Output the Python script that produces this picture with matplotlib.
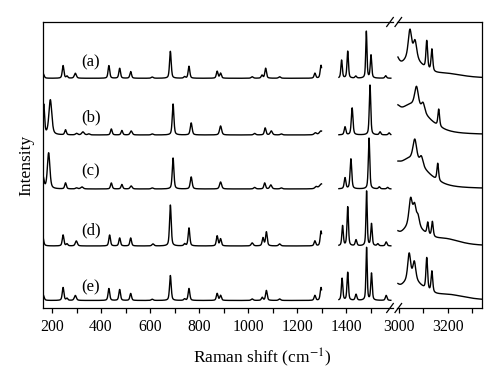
import numpy as np
import matplotlib
matplotlib.use("Agg")
import matplotlib.pyplot as plt
from matplotlib.lines import Line2D

plt.rcParams.update({
    "font.family": ["Liberation Serif", "DejaVu Serif"],
    "mathtext.fontset": "stix",
    "font.size": 11,
})

# ── Data: peak tables (centre cm-1, height, half-width) ──

labels = ["(a)", "(b)", "(c)", "(d)", "(e)"]
offsets = [229.7, 173.0, 119.0, 62.0, 7.5]
label_y = [246, 191, 137, 78, 21]

peaks_a = [
    (163, 5, 5), (245, 12.7, 4), (261, 2, 4), (295, 5, 5), (432, 12.7, 4),
    (476, 10, 4), (521, 6.7, 4), (609, 1.2, 5), (683, 27, 4), (741, 1.5, 4),
    (759, 12, 4), (874, 7, 4), (888, 5, 4), (1017, 1.5, 5), (1057, 3, 4),
    (1072, 10, 4), (1129, 1.5, 5), (1273, 5, 4), (1298, 13, 4),
    (1382, 18, 3.5), (1407, 27, 3.5), (1440, 2, 4), (1483, 47, 3),
    (1502, 23, 3.5), (1562, 2.5, 4),
    (2985, 17, 15), (3050, 20, 50), (3045, 27, 8), (3066, 17, 8),
    (3114, 28, 4), (3135, 22, 4), (3190, 4, 80),
]
peaks_b = [
    (166, 30, 4), (193, 35, 7), (255, 5, 4), (300, 1.5, 5), (326, 3, 6),
    (350, 1, 5), (442, 6, 4), (485, 4.5, 4), (523, 4, 5), (609, 1, 5),
    (694, 31, 4), (768, 12, 4.5), (888, 9, 5), (1027, 1.5, 5), (1070, 7, 4),
    (1095, 4, 5), (1136, 1, 5), (1275, 2, 6), (1298, 4, 8),
    (1396, 8, 4), (1425, 27, 4), (1498, 50, 3.5), (1539, 3, 4), (1576, 2, 4),
    (2990, 10, 15), (3050, 30, 80), (3072, 20, 9), (3099, 9, 8),
    (3163, 17, 4),
]
peaks_c = [
    (163, 12, 5), (186, 36, 6), (255, 6, 4), (300, 1, 5), (322, 2, 6),
    (442, 6, 4), (485, 4.5, 4), (523, 3, 5), (609, 1, 5), (694, 31, 4),
    (768, 12, 4.5), (888, 7, 5), (1027, 1.5, 5), (1068, 6, 4), (1093, 4, 5),
    (1136, 1, 5), (1278, 2, 6), (1300, 5, 10),
    (1396, 11, 4), (1420, 30, 4), (1494, 51, 3.5), (1536, 2, 4), (1570, 1.5, 4),
    (2990, 6, 15), (3045, 30, 80), (3065, 21, 9), (3092, 9, 8),
    (3159, 17, 4),
]
peaks_d = [
    (160, 13, 5), (245, 11, 4), (261, 2, 4), (299, 5, 5), (435, 11, 4),
    (476, 8, 4), (521, 8, 4), (612, 2, 5), (683, 41, 4), (741, 2, 4),
    (759, 18, 4), (874, 10, 4), (888, 7, 4), (1017, 3, 5), (1061, 8, 4),
    (1075, 14, 4), (1129, 2, 5), (1273, 5, 4), (1298, 15, 4),
    (1386, 20, 3.5), (1407, 39, 3.5), (1441, 6, 4), (1484, 55, 3),
    (1504, 22, 3.5), (1530, 2, 4), (1564, 4, 4),
    (2985, 8, 15), (3055, 20, 55), (3048, 26, 8), (3064, 18, 7), (3078, 10, 7),
    (3118, 12, 4), (3137, 15, 4), (3190, 6, 70),
]
peaks_e = [
    (163, 6, 5), (245, 13, 4), (261, 2, 4), (295, 5, 5), (432, 12, 4),
    (476, 11, 4), (521, 7, 4), (609, 1.2, 5), (683, 25, 4), (741, 1.5, 4),
    (759, 12, 4), (874, 7, 4), (888, 5, 4), (1017, 1.5, 5), (1058, 3, 4),
    (1075, 10, 4), (1129, 1.5, 5), (1273, 5, 4), (1298, 13, 4),
    (1384, 22, 3.5), (1407, 28, 3.5), (1441, 6, 4), (1484, 53, 3),
    (1504, 27, 3.5), (1564, 5, 4),
    (2985, 9, 15), (3050, 20, 55), (3042, 26, 7), (3063, 18, 7),
    (3114, 32, 4), (3135, 21, 4), (3200, 5, 80),
]
spectra = [peaks_a, peaks_b, peaks_c, peaks_d, peaks_e]

# measured windows of the spectra
segments = [(164, 1300), (1371, 1583), (2996, 3340)]


def profile(x, peaks, eta=0.5):
    y = np.zeros_like(x)
    for c, h, g in peaks:
        u = (x - c) / g
        y += h * (eta / (1 + u ** 2) + (1 - eta) * np.exp(-np.log(2) * u ** 2))
    return y


# ── Figure ────────────────────────────────────────────────────────────────────

fig = plt.figure(figsize=(5.0, 3.86), dpi=100)
W, H = 500.0, 386.0
x0, xb, x1 = 43, 395, 482
ytop, ybot = 22, 308
ax1 = fig.add_axes([x0 / W, 1 - ybot / H, (xb - x0) / W, (ybot - ytop) / H])
ax2 = fig.add_axes([xb / W, 1 - ybot / H, (x1 - xb) / W, (ybot - ytop) / H],
                   sharey=ax1)

for peaks, off in zip(spectra, offsets):
    for lo, hi in segments:
        x = np.linspace(lo, hi, int((hi - lo) * 2))
        y = profile(x, peaks) + off
        ax = ax1 if hi < 2000 else ax2
        ax.plot(x, y, color="black", lw=1.0)

for lab, ly in zip(labels, label_y):
    ax1.text(359, ly, lab, ha="center", va="center", fontsize=12)

ax1.set_xlim(163, 1600)
ax2.set_xlim(2984, 3340)
ax1.set_ylim(0, 286)

ax1.set_xticks(np.arange(200, 1401, 200))
ax1.set_xticks(np.arange(300, 1501, 200), minor=True)
ax2.set_xticks([3000, 3200])
ax2.set_xticks([3100, 3300], minor=True)

for ax in (ax1, ax2):
    ax.tick_params(axis="x", which="both", direction="out", length=3.5,
                   width=0.9, top=False, labelsize=11.3, pad=4.5)
    ax.tick_params(axis="y", which="both", left=False, right=False,
                   labelleft=False, labelright=False)
    for s in ax.spines.values():
        s.set_linewidth(0.9)

ax1.spines["right"].set_visible(False)
ax2.spines["left"].set_visible(False)
ax1.spines["bottom"].set_bounds(163, 1590)
ax1.spines["top"].set_bounds(163, 1590)
ax2.spines["bottom"].set_bounds(2994, 3340)
ax2.spines["top"].set_bounds(2994, 3340)

# break marks "//" on bottom and top axis lines
for yc in (ybot, ytop):
    for xc in (390.0, 398.3):
        fig.add_artist(Line2D([(xc - 3.3) / W, (xc + 3.3) / W],
                              [1 - (yc + 4.5) / H, 1 - (yc - 4.5) / H],
                              color="black", lw=0.9))

fig.text(262.5 / W, 1 - 358 / H, "Raman shift (cm$^{-1}$)",
         ha="center", va="center", fontsize=12.5)
fig.text(26 / W, 1 - 165 / H, "Intensity", rotation=90,
         ha="center", va="center", fontsize=12.5)

fig.savefig("out.png", dpi=100)
